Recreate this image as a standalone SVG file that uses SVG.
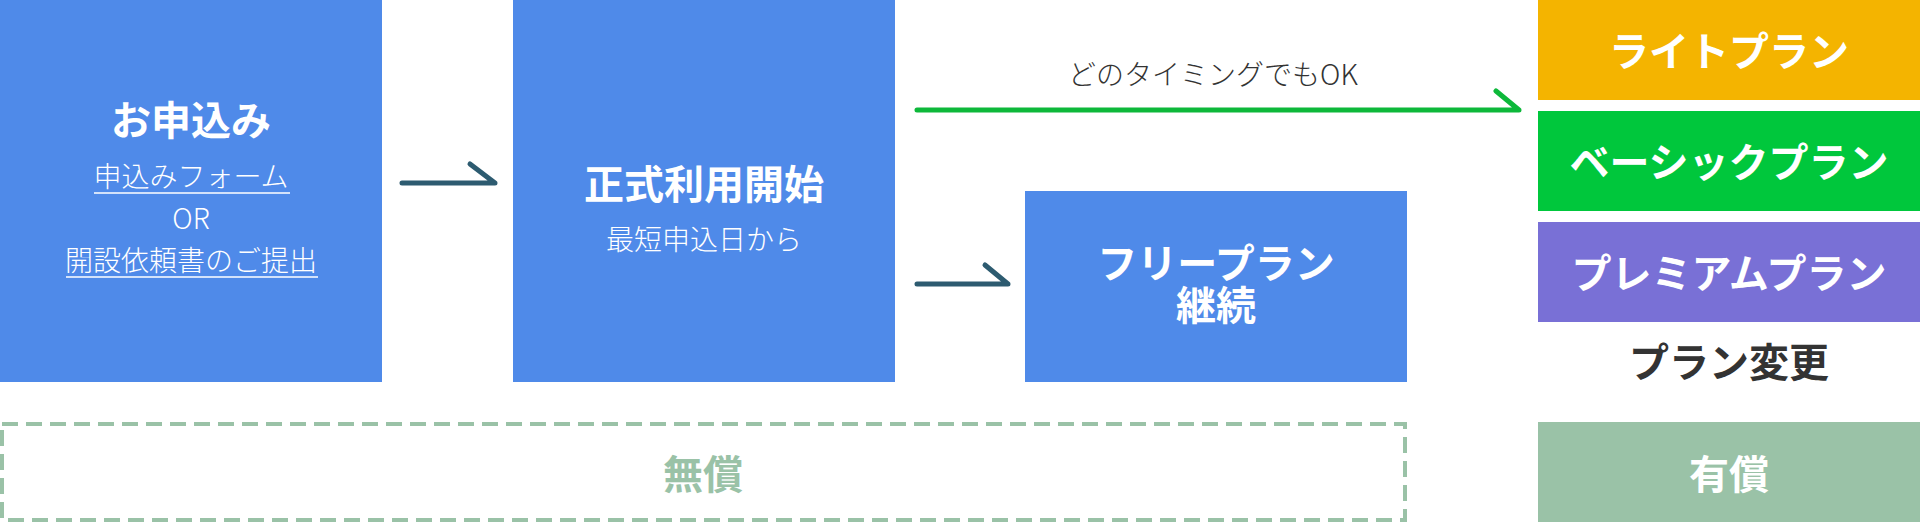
<svg xmlns="http://www.w3.org/2000/svg" width="1920" height="522" viewBox="0 0 1920 522">
<style>
text{font-family:"Noto Sans CJK JP","Noto Sans",sans-serif;text-anchor:middle}
.t{font-size:40px;font-weight:700;fill:#fff}
.s{font-size:28px;font-weight:300;fill:#fff}
.blue{fill:#4F8AE9}
.ul{stroke:#fff;stroke-width:1.5}
.arr{fill:none;stroke-width:5;stroke-linecap:round;stroke-linejoin:round}
</style>
<rect width="1920" height="522" fill="#fff"/>
<g id="apply">
<rect class="blue" x="0" y="0" width="382" height="382"/>
<text class="t" x="191" y="135">お申込み</text>
<text class="s" x="191" y="187">申込みフォーム</text>
<line class="ul" x1="94" y1="193" x2="290" y2="193"/>
<text class="s" x="191" y="229">OR</text>
<text class="s" x="191" y="271">開設依頼書のご提出</text>
<line class="ul" x1="66" y1="277" x2="318" y2="277"/>
</g>
<g id="start">
<rect class="blue" x="513" y="0" width="382" height="382"/>
<text class="t" x="704" y="199">正式利用開始</text>
<text class="s" x="704" y="250">最短申込日から</text>
</g>
<g id="free">
<rect class="blue" x="1025" y="191" width="382" height="191"/>
<text class="t" x="1216" y="278">フリープラン<tspan x="1216" y="320">継続</tspan></text>
</g>
<g id="light">
<rect x="1538" y="0" width="382" height="100" fill="#F4B400"/>
<text class="t" x="1729" y="66">ライトプラン</text>
</g>
<g id="basic">
<rect x="1538" y="111" width="382" height="100" fill="#00C73C"/>
<text class="t" x="1729" y="177">ベーシックプラン</text>
</g>
<g id="premium">
<rect x="1538" y="222" width="382" height="100" fill="#7970D6"/>
<text class="t" x="1729" y="288">プレミアムプラン</text>
</g>
<g id="change">
<text class="t" x="1729" y="377" style="fill:#333">プラン変更</text>
</g>
<g id="free-period">
<rect x="2" y="424" width="1403" height="96" fill="none" stroke="#9AC2A7" stroke-width="4" stroke-dasharray="16 8"/>
<text class="t" x="703" y="489" style="fill:#9AC2A7">無償</text>
</g>
<g id="paid">
<rect x="1538" y="422" width="382" height="100" fill="#9AC2A7"/>
<text class="t" x="1729" y="489">有償</text>
</g>
<g id="connectors">
<path class="arr" stroke="#2D5B70" d="M402 183H495L470 164"/>
<path class="arr" stroke="#2D5B70" d="M917 284H1008L985 265"/>
<path class="arr" stroke="#0DB83A" d="M917 110H1519L1496 91"/>
<text x="1213" y="85" style="font-size:28px;font-weight:300;fill:#333">どのタイミングでもOK</text>
</g>
</svg>
